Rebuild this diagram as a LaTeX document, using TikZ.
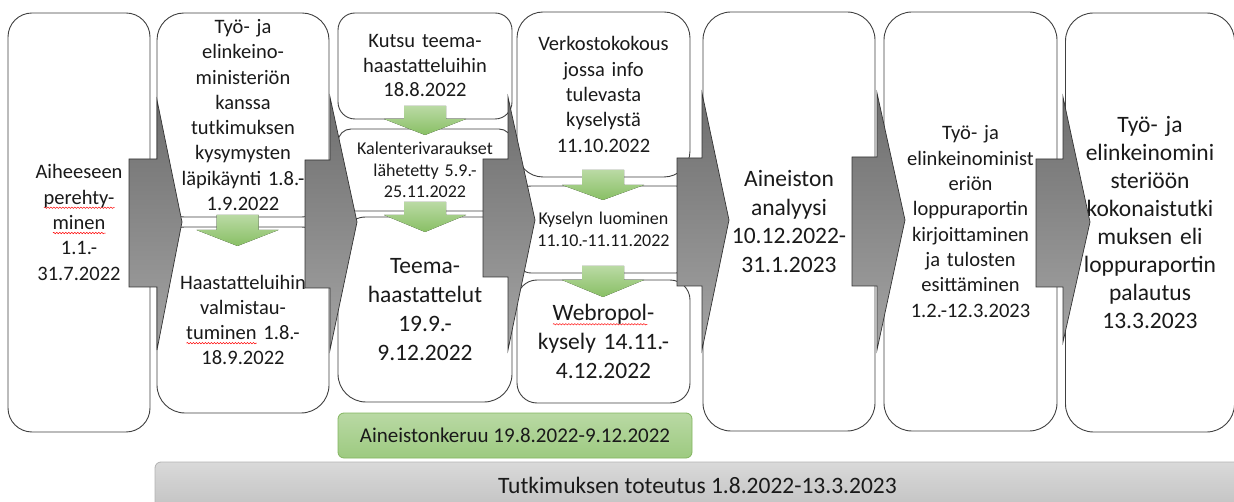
\documentclass[tikz,border=0pt]{standalone}
\usepackage{fontspec}
\setmainfont{Carlito}
\usetikzlibrary{decorations.pathmorphing}
\newlength\spellw
\newcommand\spellmark[1]{\leavevmode\settowidth\spellw{#1}\rlap{\tikz[baseline=0pt, sharp corners]\draw[red, line width=0.5pt, sharp corners, decorate, decoration={snake, amplitude=0.7pt, segment length=3pt}] (0pt,-3.5pt) -- (\spellw,-3.5pt);}#1}
\definecolor{lineC}{HTML}{404040}
\definecolor{txtC}{HTML}{1A1A1A}
\definecolor{arrTop}{HTML}{6E6E6E}
\definecolor{arrBot}{HTML}{A4A4A4}
\definecolor{grTop}{HTML}{BADAA4}
\definecolor{grBot}{HTML}{88BF64}
\definecolor{gbTop}{HTML}{B9D9A4}
\definecolor{gbBot}{HTML}{9DCA80}
\definecolor{gbLine}{HTML}{82B55F}
\definecolor{barTop}{HTML}{D9D9D9}
\definecolor{barBot}{HTML}{C3C3C3}
\newcommand\grayarrow[8]{\draw[grayarr] (#1,#4) -- (#2,#4) -- (#2,#6) -- (#3,#8) -- (#2,#7) -- (#2,#5) -- (#1,#5) -- cycle;}
\newcommand\greenarrow[4]{\fill[greenarr] (#1-21,#2) -- (#1+21,#2) -- (#1+21,#3) -- (#1+41,#3) -- (#1,#4) -- (#1-41,#3) -- (#1-21,#3) -- cycle;}
\begin{document}
\begin{tikzpicture}[x=1pt,y=-1pt,
  box/.style={draw=lineC, line width=0.9pt, fill=white, inner sep=0pt, align=center, text=txtC},
  fbig/.style={font=\fontsize{20.5pt}{25.3pt}\selectfont},
  fsmall/.style={font=\fontsize{18pt}{21.7pt}\selectfont},
  flarge/.style={font=\fontsize{23.5pt}{28.8pt}\selectfont},
  fhuge/.style={font=\fontsize{23.5pt}{27.9pt}\selectfont},
  grayarr/.style={draw=black!80, line width=0.7pt, top color=arrTop, bottom color=arrBot},
  greenarr/.style={top color=grTop, bottom color=grBot},
]
\useasboundingbox (0,0) rectangle (1234,502);

% column boxes
\node[box, fbig, rounded corners=24pt, minimum width=142pt, minimum height=419pt, text width=142pt] (b1) at (79,222.5)
  {Aiheeseen\\\spellmark{perehty-}\\\spellmark{minen}\\1.1.-\\31.7.2022};
\node[box, fbig, rounded corners=27pt, minimum width=172pt, minimum height=204pt, text width=172pt] (b2t) at (243,115)
  {Työ- ja\\elinkeino-\\ministeriön\\kanssa\\tutkimuksen\\kysymysten\\läpikäynti 1.8.-\\1.9.2022};
\node[box, fbig, rounded corners=28pt, minimum width=172pt, minimum height=186pt, text width=172pt] (b2b) at (243,320)
  {Haastatteluihin\\valmistau-\\\spellmark{tuminen} 1.8.-\\18.9.2022};
\node[box, font=\fontsize{20.5pt}{24.5pt}\selectfont, rounded corners=17pt, minimum width=174pt, minimum height=106pt, text width=174pt] (b3a) at (425,66)
  {Kutsu teema-\\haastatteluihin\\18.8.2022};
\node[box, fsmall, rounded corners=13pt, minimum width=174pt, minimum height=82pt, text width=174pt] (b3b) at (425,170)
  {Kalenterivaraukset\\lähetetty 5.9.-\\25.11.2022};
\node[box, flarge, rounded corners=28pt, minimum width=174pt, minimum height=185pt, text width=174pt] (b3c) at (425,309.5)
  {Teema-\\haastattelut\\19.9.-\\9.12.2022};
\node[box, fbig, rounded corners=26pt, minimum width=173pt, minimum height=165pt, text width=173pt] (b4a) at (603.5,94.5)
  {Verkostokokous\\jossa info\\tulevasta\\kyselystä\\11.10.2022};
\node[box, fsmall, rounded corners=14pt, minimum width=173pt, minimum height=87pt, text width=173pt] (b4b) at (603.5,229.5)
  {Kyselyn luominen\\11.10.-11.11.2022};
\node[box, flarge, rounded corners=20pt, minimum width=173pt, minimum height=123pt, text width=173pt] (b4c) at (603.5,341.5)
  {\spellmark{Webropol}-\\kysely 14.11.-\\4.12.2022};
\node[box, flarge, rounded corners=28pt, minimum width=172pt, minimum height=419pt, text width=172pt] (b5) at (789,221.5)
  {Aineiston\\analyysi\\10.12.2022-\\31.1.2023};
\node[box, fbig, rounded corners=28pt, minimum width=173pt, minimum height=419pt, text width=173pt] (b6) at (970.5,221.5)
  {Työ- ja\\elinkeinominist\\eriön\\loppuraportin\\kirjoittaminen\\ja tulosten\\esittäminen\\1.2.-12.3.2023};
\node[box, fhuge, rounded corners=28pt, minimum width=169pt, minimum height=419pt, text width=169pt] (b7) at (1150,222.5)
  {Työ- ja\\elinkeinomini\\steriöön\\kokonaistutki\\muksen eli\\loppuraportin\\palautus\\13.3.2023};

% gray process arrows
\grayarrow{129}{157}{182}{159}{287}{100}{350}{222}
\grayarrow{305}{330}{357}{160}{288}{97}{350}{222}
\grayarrow{483}{508}{535}{159}{277}{97}{350}{220}
\grayarrow{677}{702}{729}{158}{286}{93}{350}{220}
\grayarrow{852}{877}{905}{157}{286}{93}{350}{220}
\grayarrow{1036}{1063}{1090}{159}{287}{97}{342}{222}

% green down arrows
\greenarrow{237.5}{215}{230}{246}
\greenarrow{425}{106}{119}{135}
\greenarrow{425}{202}{215}{232}
\greenarrow{603}{170}{185}{200}
\greenarrow{603}{266}{280}{297}

% bottom bars
\node[draw=gbLine, line width=0.8pt, top color=gbTop, bottom color=gbBot, rounded corners=6pt,
  minimum width=354pt, minimum height=45pt, inner sep=0pt, text=txtC, font=\fontsize{21pt}{25pt}\selectfont] (keruu) at (515,435.5)
  {Aineistonkeruu 19.8.2022-9.12.2022};
\node[draw=black!30, line width=0.8pt, top color=barTop, bottom color=barBot, rounded corners=6pt,
  minimum width=1085pt, minimum height=46pt, inner sep=0pt, text=txtC, font=\fontsize{23.5pt}{28pt}\selectfont] (toteutus) at (697.5,485)
  {Tutkimuksen toteutus 1.8.2022-13.3.2023};
\end{tikzpicture}
\end{document}
